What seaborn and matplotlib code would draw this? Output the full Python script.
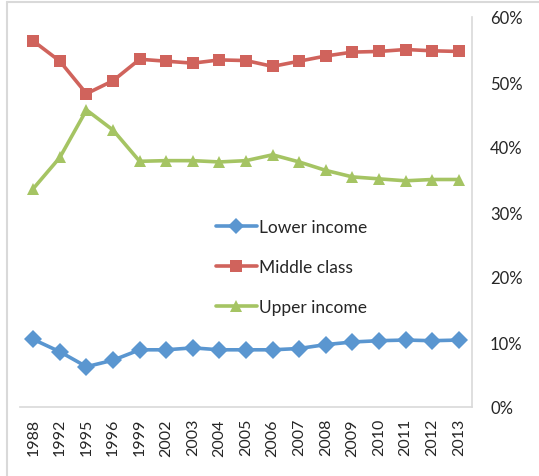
import pandas as pd
import seaborn as sns
import matplotlib.pyplot as plt
from matplotlib.lines import Line2D

years = ["1988", "1992", "1995", "1996", "1999", "2002", "2003", "2004",
         "2005", "2006", "2007", "2008", "2009", "2010", "2011", "2012", "2013"]
lower = [10.4, 8.5, 6.2, 7.2, 8.8, 8.8, 9.1, 8.8, 8.8, 8.8, 9.0, 9.6, 10.0, 10.2, 10.3, 10.2, 10.3]
middle = [56.3, 53.2, 48.2, 50.2, 53.5, 53.2, 52.9, 53.4, 53.3, 52.4, 53.2, 54.0, 54.6, 54.7, 55.0, 54.8, 54.7]
upper = [33.6, 38.4, 45.7, 42.6, 37.8, 37.9, 37.9, 37.7, 37.9, 38.8, 37.7, 36.4, 35.4, 35.1, 34.8, 35.0, 35.0]

names = ["Lower income", "Middle class", "Upper income"]
pal = {"Lower income": "#5A96D0", "Middle class": "#D0635C", "Upper income": "#A5C463"}
mk = {"Lower income": "D", "Middle class": "s", "Upper income": "^"}

rows = []
for name, vals in zip(names, [lower, middle, upper]):
    for y, v in zip(years, vals):
        rows.append({"year": y, "share": v, "group": name})
df = pd.DataFrame(rows)

sns.set_style("white")
plt.rcParams['font.family'] = ['Lato', 'DejaVu Sans']

fig = plt.figure(figsize=(5.39, 4.77), dpi=100)
ax = fig.add_axes([20 / 539, 69 / 477, 452 / 539, 390 / 477])

sns.lineplot(data=df, x="year", y="share", hue="group", style="group",
             palette=pal, markers=mk, dashes=False, lw=2.6,
             markersize=9, markeredgewidth=0, ax=ax, sort=False)

ax.set_xlim(-0.5, len(years) - 0.5)
ax.set_ylim(0, 60)
ax.set_yticks(range(0, 61, 10))
ax.set_yticklabels([f"{v}%" for v in range(0, 61, 10)], fontsize=12)
ax.yaxis.tick_right()
ax.tick_params(axis="y", length=0, pad=13)
ax.tick_params(axis="x", length=0, pad=8, labelrotation=90, labelsize=11.5)
ax.set_xlabel("")
ax.set_ylabel("")
for s in ["top", "left"]:
    ax.spines[s].set_visible(False)
for s in ["right", "bottom"]:
    ax.spines[s].set_color("#D9D9D9")
    ax.spines[s].set_linewidth(1.2)

leg = ax.legend(loc="center left", bbox_to_anchor=(200 / 539, (477 - 268) / 477),
                bbox_transform=fig.transFigure, frameon=False, fontsize=12.5,
                labelspacing=1.4, handlelength=2.4, handletextpad=0.1)
for h in leg.legend_handles:
    h.set_markersize(8)

# outer chart frame
fig.add_artist(Line2D([7 / 539, 7 / 539], [0, 474 / 477], color="#D9D9D9", lw=1.5,
                      transform=fig.transFigure))
fig.add_artist(Line2D([7 / 539, 1], [474 / 477, 474 / 477], color="#D9D9D9", lw=1.5,
                      transform=fig.transFigure))

fig.savefig("out.png", dpi=100)
